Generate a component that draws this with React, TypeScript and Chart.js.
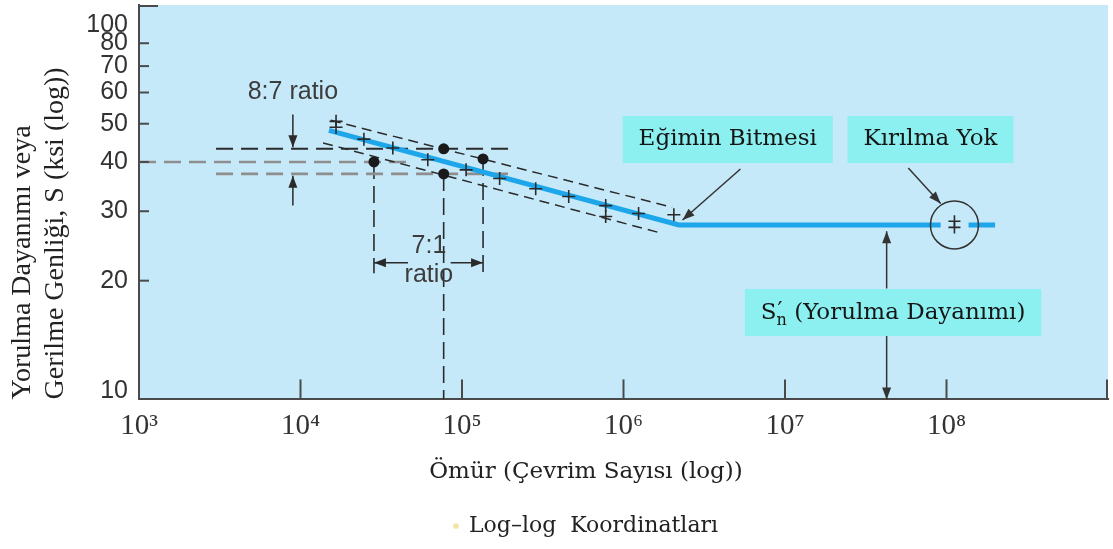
import React, { useEffect, useRef } from 'react';
import { Chart, registerables } from 'chart.js';

Chart.register(...registerables);

// ---------------- data ----------------
const xTickValues = [1e3, 1e4, 1e5, 1e6, 1e7, 1e8, 1e9];
const xTickLabels = ['10³', '10⁴', '10⁵', '10⁶', '10⁷', '10⁸', ''];
const yTickValues = [10, 20, 30, 40, 50, 60, 70, 80, 100];
const yTickLabels = ['10', '20', '30', '40', '50', '60', '70', '80', '100'];

// S-N (fatigue) curve; null = gap inside the run-out circle
const curveN = [1.5e4, 2.2e6, 9.2e7, 1.12e8, 1.37e8, 2.0e8];
const curveS = [48.1, 27.7, 27.7, null, 27.7, 27.7];

// test results (+)
const testN = [1.66e4, 1.66e4, 2.47e4, 3.73e4, 6.14e4, 1.06e5, 1.71e5, 2.86e5, 4.58e5, 7.76e5, 7.76e5, 1.24e6, 2.05e6];
const testS = [50.7, 49.0, 45.7, 43.4, 40.5, 38.2, 36.3, 34.2, 32.7, 31.0, 29.1, 29.6, 29.4];

// run-out (no failure)
const runoutN = [1.12e8, 1.12e8];
const runoutS = [28.3, 27.3];
const circleN = [1.12e8];
const circleS = [27.7];

// ratio dots
const ratioDotN = [2.85e4, 7.7e4, 7.7e4, 1.35e5];
const ratioDotS = [40.0, 43.2, 37.3, 40.7];

// scatter band
const upperBandN = [1.54e4, 2.0e6];
const upperBandS = [51.0, 30.7];
const lowerBandN = [1.38e4, 1.65e6];
const lowerBandS = [44.7, 26.5];

// reference dashed lines
const refHighN = [3.0e3, 2.06e5];
const refHighS = [43.2, 43.2];
const ref40N = [1e3, 5.0e4];
const ref40S = [40, 40];
const refLowN = [3.0e3, 2.06e5];
const refLowS = [37.3, 37.3];
const stemLeftN = [2.85e4, 2.85e4];
const stemLeftS = [40.0, 20.9];
const stemMidN = [7.7e4, 7.7e4];
const stemMidS = [37.3, 10];
const stemRightN = [1.35e5, 1.35e5];
const stemRightS = [40.7, 20.9];

// arrows [tail, tip]
const arrow87DownN = [8.97e3, 8.97e3];
const arrow87DownS = [52.8, 43.6];
const arrow87UpN = [8.97e3, 8.97e3];
const arrow87UpS = [31.0, 36.9];
const arrow71LeftN = [4.63e4, 2.85e4];
const arrow71RightN = [8.5e4, 1.35e5];
const arrow71S = [22.2, 22.2];
const arrowKneeN = [5.3e6, 2.32e6];
const arrowKneeS = [38.4, 28.5];
const arrowRunoutN = [5.8e7, 9.2e7];
const arrowRunoutS = [38.6, 31.4];
const arrowEndUpN = [4.26e7, 4.26e7];
const arrowEndUpS = [19.1, 26.7];
const arrowEndDownN = [4.26e7, 4.26e7];
const arrowEndDownS = [14.5, 10];

// callouts (cyan boxes)
const calloutParts = [
  [['Eğimin Bitmesi', 'n']],
  [['Kırılma Yok', 'n']],
  [['S', 'n'], ['′', 'sup'], ['n', 'sub'], [' (Yorulma Dayanımı)', 'n']],
];
const calloutN = [4.42e6, 7.96e7, 4.67e7];
const calloutS = [45.6, 45.6, 16.6];

// ratio texts
const ratioTexts = ['8:7 ratio', '7:1', 'ratio'];
const ratioTextN = [8.97e3, 6.24e4, 6.24e4];
const ratioTextS = [60.3, 24.5, 20.7];

const xTitle = 'Ömür (Çevrim Sayısı (log))';
const yTitle = ['Yorulma Dayanımı veya', 'Gerilme Genliği, S (ksi (log))'];
const legendLabel = 'Log–log  Koordinatları';

// ---------------- styles ----------------
const PLOT_BG = '#c6e9f9';
const BOX_BG = '#8cf0f0';
const BLUE = '#1ea6ea';
const INK = '#2a2a2a';
const GREY = '#8e8e8e';
const AXIS = '#4a4a4a';

const pts = (ns: number[], ss: (number | null)[]) => ns.map((n, i) => ({ x: n, y: ss[i] }));

const lineDs = (label: string, ns: number[], ss: number[], color: string, width: number, dash: number[], arrow = false) => ({
  label,
  data: pts(ns, ss),
  showLine: true,
  borderColor: color,
  backgroundColor: color,
  borderWidth: width,
  borderDash: dash,
  pointRadius: 0,
  arrowHead: arrow,
});

const decorPlugin = {
  id: 'decor',
  beforeDraw(chart: any) {
    const { ctx, chartArea: a } = chart;
    ctx.save();
    ctx.fillStyle = PLOT_BG;
    ctx.fillRect(a.left, a.top, a.right - a.left, a.bottom - a.top);
    ctx.restore();
  },
  afterDatasetsDraw(chart: any) {
    const { ctx, chartArea: a } = chart;
    const xs = chart.scales.x;
    const ys = chart.scales.y;
    ctx.save();
    // arrow heads
    chart.data.datasets.forEach((ds: any, i: number) => {
      if (!ds.arrowHead) return;
      const meta = chart.getDatasetMeta(i);
      const p0 = meta.data[0];
      const p1 = meta.data[1];
      const ang = Math.atan2(p1.y - p0.y, p1.x - p0.x);
      const L = 12;
      const W = 4.5;
      const c = Math.cos(ang);
      const s = Math.sin(ang);
      ctx.fillStyle = ds.borderColor;
      ctx.beginPath();
      ctx.moveTo(p1.x, p1.y);
      ctx.lineTo(p1.x - L * c + W * s, p1.y - L * s - W * c);
      ctx.lineTo(p1.x - L * c - W * s, p1.y - L * s + W * c);
      ctx.closePath();
      ctx.fill();
    });
    // inside tick marks
    ctx.strokeStyle = AXIS;
    ctx.lineWidth = 2;
    xTickValues.slice(1).forEach((v) => {
      const px = Math.min(xs.getPixelForValue(v), a.right - 1);
      ctx.beginPath();
      ctx.moveTo(px, a.bottom);
      ctx.lineTo(px, a.bottom - 20);
      ctx.stroke();
    });
    yTickValues.slice(1).forEach((v) => {
      const py = Math.max(ys.getPixelForValue(v), a.top + 1);
      const len = v === 100 ? 19 : 10;
      ctx.beginPath();
      ctx.moveTo(a.left, py);
      ctx.lineTo(a.left + len, py);
      ctx.stroke();
    });
    // ratio texts
    ctx.fillStyle = '#3c3c3c';
    ctx.font = '25px "Liberation Sans", Arial, sans-serif';
    ctx.textAlign = 'center';
    ctx.textBaseline = 'middle';
    ratioTexts.forEach((t, i) => {
      ctx.fillText(t, xs.getPixelForValue(ratioTextN[i]), ys.getPixelForValue(ratioTextS[i]));
    });
    // callouts
    const mainFont = '23px "DejaVu Serif", serif';
    const supFont = '22px "DejaVu Serif", serif';
    const subFont = '16px "DejaVu Serif", serif';
    const fontFor = (kind: string) => (kind === 'n' ? mainFont : kind === 'sup' ? supFont : subFont);
    calloutParts.forEach((parts: any[], i: number) => {
      let w = 0;
      const widths: number[] = [];
      parts.forEach(([t, kind]: any, k: number) => {
        ctx.font = fontFor(kind);
        const tw = ctx.measureText(t).width;
        if (kind === 'sub' && parts[k - 1] && parts[k - 1][1] === 'sup') {
          const prev = widths[k - 1];
          const m = Math.max(prev, tw);
          w += m - prev;
          widths.push(0);
          widths[k - 1] = m;
        } else {
          widths.push(tw);
          w += tw;
        }
      });
      const cx = xs.getPixelForValue(calloutN[i]);
      const cy = ys.getPixelForValue(calloutS[i]);
      const bw = w + 32;
      const bh = 47;
      ctx.fillStyle = BOX_BG;
      ctx.fillRect(cx - bw / 2, cy - bh / 2, bw, bh);
      ctx.fillStyle = '#151515';
      ctx.textAlign = 'left';
      ctx.textBaseline = 'middle';
      let x = cx - w / 2;
      let lastX = x;
      parts.forEach(([t, kind]: any, k: number) => {
        ctx.font = fontFor(kind);
        if (kind === 'n') {
          ctx.fillText(t, x, cy);
          x += widths[k];
        } else if (kind === 'sup') {
          lastX = x;
          ctx.fillText(t, x + 1, cy - 1);
          x += widths[k];
        } else {
          ctx.fillText(t, lastX, cy + 8);
        }
      });
    });
    ctx.restore();
  },
};

export default function App() {
  const ref = useRef<HTMLCanvasElement>(null);
  useEffect(() => {
    const datasets: any[] = [
      {
        label: 'Deney sonuçları',
        data: pts(testN, testS),
        pointStyle: 'cross',
        pointRadius: 6.5,
        borderColor: INK,
        backgroundColor: INK,
        borderWidth: 1.6,
      },
      {
        label: 'Kırılma yok (deney)',
        data: pts(runoutN, runoutS),
        pointStyle: 'cross',
        pointRadius: 6,
        borderColor: INK,
        backgroundColor: INK,
        borderWidth: 1.6,
      },
      {
        label: 'Oran noktaları',
        data: pts(ratioDotN, ratioDotS),
        pointStyle: 'circle',
        pointRadius: 5.5,
        borderColor: '#1a1a1a',
        backgroundColor: '#1a1a1a',
        borderWidth: 0,
      },
      {
        label: 'Kırılma yok çemberi',
        data: pts(circleN, circleS),
        pointStyle: 'circle',
        pointRadius: 24,
        borderColor: '#333',
        backgroundColor: 'rgba(0,0,0,0)',
        borderWidth: 1.5,
      },
      {
        label: 'S-N eğrisi',
        data: pts(curveN, curveS),
        showLine: true,
        spanGaps: false,
        borderColor: BLUE,
        backgroundColor: BLUE,
        borderWidth: 5,
        pointRadius: 0,
      },
      lineDs('Üst saçılma sınırı', upperBandN, upperBandS, INK, 1.5, [10, 6]),
      lineDs('Alt saçılma sınırı', lowerBandN, lowerBandS, INK, 1.5, [10, 6]),
      lineDs('Üst seviye', refHighN, refHighS, INK, 2, [17, 8]),
      lineDs('40 ksi', ref40N, ref40S, GREY, 2.6, [17, 8]),
      lineDs('Alt seviye', refLowN, refLowS, GREY, 2.6, [17, 8]),
      lineDs('Sol dikey', stemLeftN, stemLeftS, INK, 1.6, [17, 7]),
      lineDs('Orta dikey', stemMidN, stemMidS, INK, 1.6, [17, 7]),
      lineDs('Sağ dikey', stemRightN, stemRightS, INK, 1.6, [17, 7]),
      lineDs('8:7 ok aşağı', arrow87DownN, arrow87DownS, INK, 1.5, [], true),
      lineDs('8:7 ok yukarı', arrow87UpN, arrow87UpS, INK, 1.5, [], true),
      lineDs('7:1 ok sol', arrow71LeftN, arrow71S, INK, 1.5, [], true),
      lineDs('7:1 ok sağ', arrow71RightN, arrow71S, INK, 1.5, [], true),
      lineDs('Eğim sonu oku', arrowKneeN, arrowKneeS, '#333', 1.5, [], true),
      lineDs('Kırılma yok oku', arrowRunoutN, arrowRunoutS, '#333', 1.5, [], true),
      lineDs('Dayanım oku yukarı', arrowEndUpN, arrowEndUpS, '#333', 1.5, [], true),
      lineDs('Dayanım oku aşağı', arrowEndDownN, arrowEndDownS, '#333', 1.5, [], true),
      {
        label: legendLabel,
        data: [],
        pointStyle: 'circle',
        backgroundColor: '#f3e4a6',
        borderColor: '#f3e4a6',
        borderWidth: 0,
      },
    ];

    const chart = new Chart(ref.current as HTMLCanvasElement, {
      type: 'scatter',
      data: { datasets },
      plugins: [decorPlugin as any],
      options: {
        animation: false,
        responsive: false,
        devicePixelRatio: 1,
        events: [],
        layout: { autoPadding: false, padding: { left: 64, right: 5, top: 5, bottom: 2 } },
        scales: {
          x: {
            type: 'logarithmic',
            position: 'bottom',
            min: 1e3,
            max: 1e9,
            afterBuildTicks: (s: any) => {
              s.ticks = xTickValues.map((v) => ({ value: v }));
            },
            afterFit: (s: any) => {
              s.height = 55;
              s.paddingLeft = 0;
              s.paddingRight = 0;
            },
            ticks: {
              autoSkip: false,
              maxRotation: 0,
              minRotation: 0,
              padding: 10,
              color: '#333',
              font: { family: '"Liberation Serif", serif', size: 29, lineHeight: 1.2 },
              callback: (_v: any, i: number) => xTickLabels[i],
            },
            grid: { display: false, drawTicks: false },
            border: { display: true, color: AXIS, width: 2 },
          },
          y: {
            type: 'logarithmic',
            position: 'left',
            min: 10,
            max: 100,
            afterBuildTicks: (s: any) => {
              s.ticks = yTickValues.map((v) => ({ value: v }));
            },
            afterFit: (s: any) => {
              s.width = 75;
              s.paddingTop = 0;
              s.paddingBottom = 0;
            },
            ticks: {
              autoSkip: false,
              padding: 11,
              color: '#333',
              font: (c: any) => {
                const v = c.tick ? c.tick.value : 0;
                return {
                  family: '"Liberation Sans", Arial, sans-serif',
                  size: 25,
                  lineHeight: v === 100 ? 1.6 : v === 10 ? 0.64 : 1.2,
                };
              },
              callback: (_v: any, i: number) => {
                const t = yTickLabels[i];
                if (i === yTickLabels.length - 1) return ['', t];
                if (i === 0) return [t, ''];
                return t;
              },
            },
            grid: { display: false, drawTicks: false },
            border: { display: true, color: AXIS, width: 2 },
            title: {
              display: true,
              text: yTitle,
              align: 'start',
              color: '#222',
              font: { family: '"Liberation Serif", serif', size: 28, lineHeight: 1.18 },
              padding: { top: -57.5, bottom: 0 },
            },
          },
        },
        plugins: {
          tooltip: { enabled: false },
          title: {
            display: true,
            text: xTitle,
            position: 'bottom',
            weight: 500,
            color: '#222',
            font: { family: '"DejaVu Serif", serif', size: 23, weight: 'normal', lineHeight: 1.2 },
            padding: { top: 4, bottom: 25 },
          },
          legend: {
            display: true,
            position: 'bottom',
            labels: {
              filter: (item: any) => item.text === legendLabel,
              usePointStyle: true,
              boxWidth: 4,
              boxHeight: 4,
              padding: 4,
              color: '#222',
              font: { family: '"DejaVu Serif", serif', size: 22 },
            },
          },
        },
      } as any,
    });
    return () => chart.destroy();
  }, []);

  return (
    <div style={{ position: 'fixed', left: 0, top: 0, width: 1113, height: 549, background: '#fff' }}>
      <canvas ref={ref} width={1113} height={549} style={{ display: 'block' }} />
    </div>
  );
}
